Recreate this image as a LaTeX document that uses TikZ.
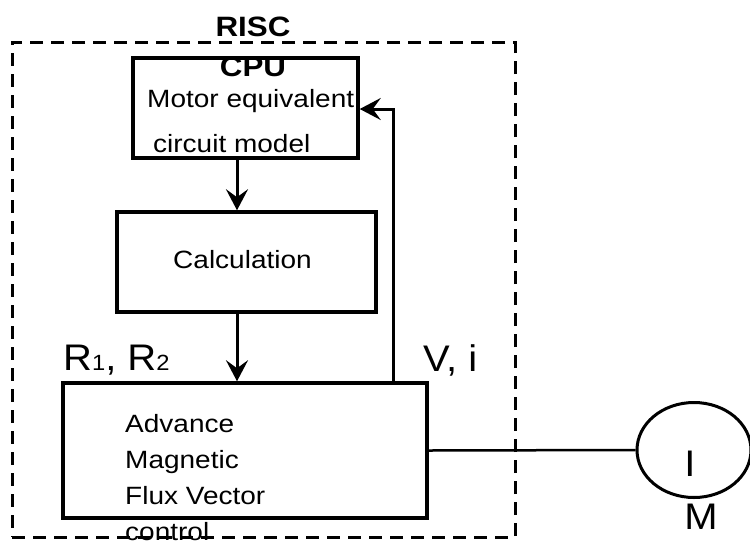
\documentclass[tikz,border=0pt]{standalone}
\usepackage{fontspec}
\setmainfont{Liberation Sans}[FakeStretch=1.12]
\newfontfamily\lblfont{Liberation Sans}[FakeStretch=1.08]
\usetikzlibrary{positioning, arrows.meta, shapes.geometric}
\tikzset{
  blk/.style={rectangle, draw, line width=3.5pt, inner sep=0pt},
  cpubox/.style={rectangle, draw, line width=3pt, dash pattern=on 13pt off 8pt, inner sep=0pt},
  txt/.style={inner sep=0pt, font=\fontsize{25}{36}\selectfont, align=left},
  lbl/.style={inner sep=0pt, font=\lblfont\fontsize{37}{37}\selectfont},
  arr/.style={-{Stealth[length=21pt, width=22pt, inset=8pt]}, line width=3pt},
  wire/.style={line width=2.5pt},
}
\begin{document}
\begin{tikzpicture}[x=1pt, y=-1pt]
  \useasboundingbox (0,0) rectangle (750,550);
  % boxes
  \node[cpubox, minimum width=503pt, minimum height=495pt] (cpu) at (263.5,289.5) {};
  \node[blk, minimum width=225pt, minimum height=100pt] (model) at (245.5,108) {};
  \node[blk, minimum width=259pt, minimum height=100pt] (calc) at (246.5,262) {};
  \node[blk, minimum width=364pt, minimum height=135pt] (afm) at (245,450.5) {};
  \node[ellipse, draw, line width=3pt, minimum width=114pt, minimum height=95pt, inner sep=0pt] (motor) at (694,450) {};
  % texts (base of a multi-line node is its last line)
  \node[txt, anchor=base, align=center, font=\bfseries\fontsize{28}{40}\selectfont] (cpulbl) at (253,76) {RISC\\CPU};
  \node[txt, anchor=base west] (modeltop) at (147,107) {Motor equivalent};
  \node[txt, anchor=base west] (modelbot) at (153,152) {circuit model};
  \node[txt, anchor=base] (calctxt) at (242.5,268) {Calculation};
  \node[txt, anchor=base west] (afmtxt) at (125,540) {Advance\\Magnetic\\Flux Vector\\control};
  \node[lbl, anchor=base west] (rlbl) at (63,370) {R{\fontsize{22}{22}\selectfont 1}, R{\fontsize{22}{22}\selectfont 2}};
  \node[lbl, anchor=base west] (vlbl) at (423,371) {V, i};
  \node[lbl, anchor=base] (mi) at (690,476) {I};
  \node[lbl, anchor=base] (mm) at (701,529) {M};
  % connectors
  \coordinate (ax) at (237,0);
  \coordinate (fb) at (393,109);
  \draw[arr] (model.south -| ax) -- (calc.north -| ax);
  \draw[arr] (calc.south -| ax) -- (afm.north -| ax);
  \draw[arr] (afm.north -| fb) -- (fb) -- (model.east |- fb);
  \draw[wire] (afm.east) -- (motor.west);
\end{tikzpicture}
\end{document}
